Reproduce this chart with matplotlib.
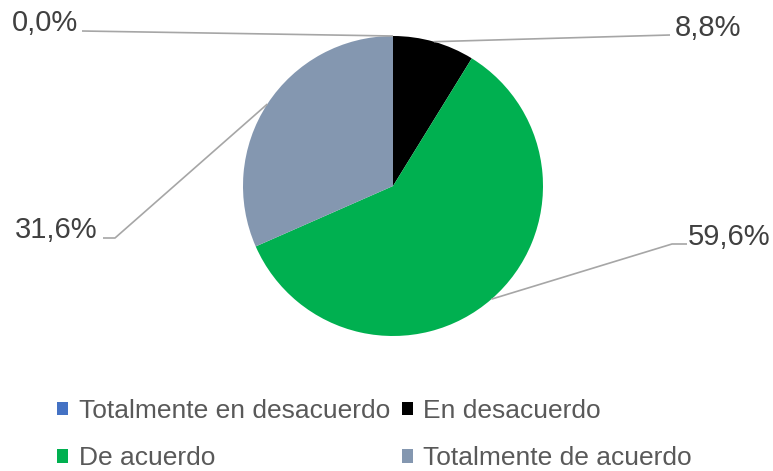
import numpy as np
import matplotlib.pyplot as plt

plt.rcParams['font.family'] = ['Liberation Sans', 'DejaVu Sans']

# Data
categories = ["Totalmente en desacuerdo", "En desacuerdo", "De acuerdo", "Totalmente de acuerdo"]
values = [0.0, 8.8, 59.6, 31.6]
colors = ["#4472C4", "#000000", "#00B050", "#8497B0"]
labels = ["0,0%", "8,8%", "59,6%", "31,6%"]

W, H = 773, 471
fig = plt.figure(figsize=(W / 100, H / 100), dpi=100)

# pie centred at (393, 186) px, radius 150 px
cx, cy, r = 393, 186, 150
ax = fig.add_axes([(cx - r) / W, (H - cy - r) / H, 2 * r / W, 2 * r / H])
wedges, _ = ax.pie(values, colors=colors, startangle=90, counterclock=False,
                   radius=1, wedgeprops=dict(linewidth=0))
ax.set_xlim(-1, 1)
ax.set_ylim(-1, 1)
ax.set_aspect("equal")
ax.axis("off")


def px(x, y):
    # pixel position -> data units of the pie axes
    return ((x - cx) / r, (cy - y) / r)


# label layout: text anchor (px), alignment, leader path points (px) from label side
label_layout = [
    dict(text=(78, 31), ha="right", path=[(82, 31)]),
    dict(text=(675, 36), ha="left", path=[(670, 35)]),
    dict(text=(688, 245), ha="left", path=[(687, 244), (672, 244)]),
    dict(text=(98, 238), ha="right", path=[(103, 238), (115, 238)]),
]

for w, lab, lay in zip(wedges, labels, label_layout):
    ang = np.deg2rad((w.theta1 + w.theta2) / 2)
    edge = (np.cos(ang), np.sin(ang))
    pts = [px(*p) for p in lay["path"]] + [edge]
    xs, ys = zip(*pts)
    ax.plot(xs, ys, color="#A6A6A6", lw=1.2, clip_on=False, solid_capstyle="butt")
    tx, ty = px(*lay["text"])
    ax.text(tx, ty, lab, ha=lay["ha"], va="baseline", fontsize=21, color="#404040")

order = [0, 2, 1, 3]
leg = fig.legend([wedges[i] for i in order], [categories[i] for i in order],
                 ncol=2, frameon=False, fontsize=19, loc="upper left",
                 bbox_to_anchor=(57 / W, 1 - 399 / H), borderaxespad=0, borderpad=0,
                 handlelength=0.42, handleheight=0.42, handletextpad=0.4,
                 columnspacing=0.45, labelspacing=0.88)
for t in leg.get_texts():
    t.set_color("#595959")

fig.savefig("out.png", dpi=100)
